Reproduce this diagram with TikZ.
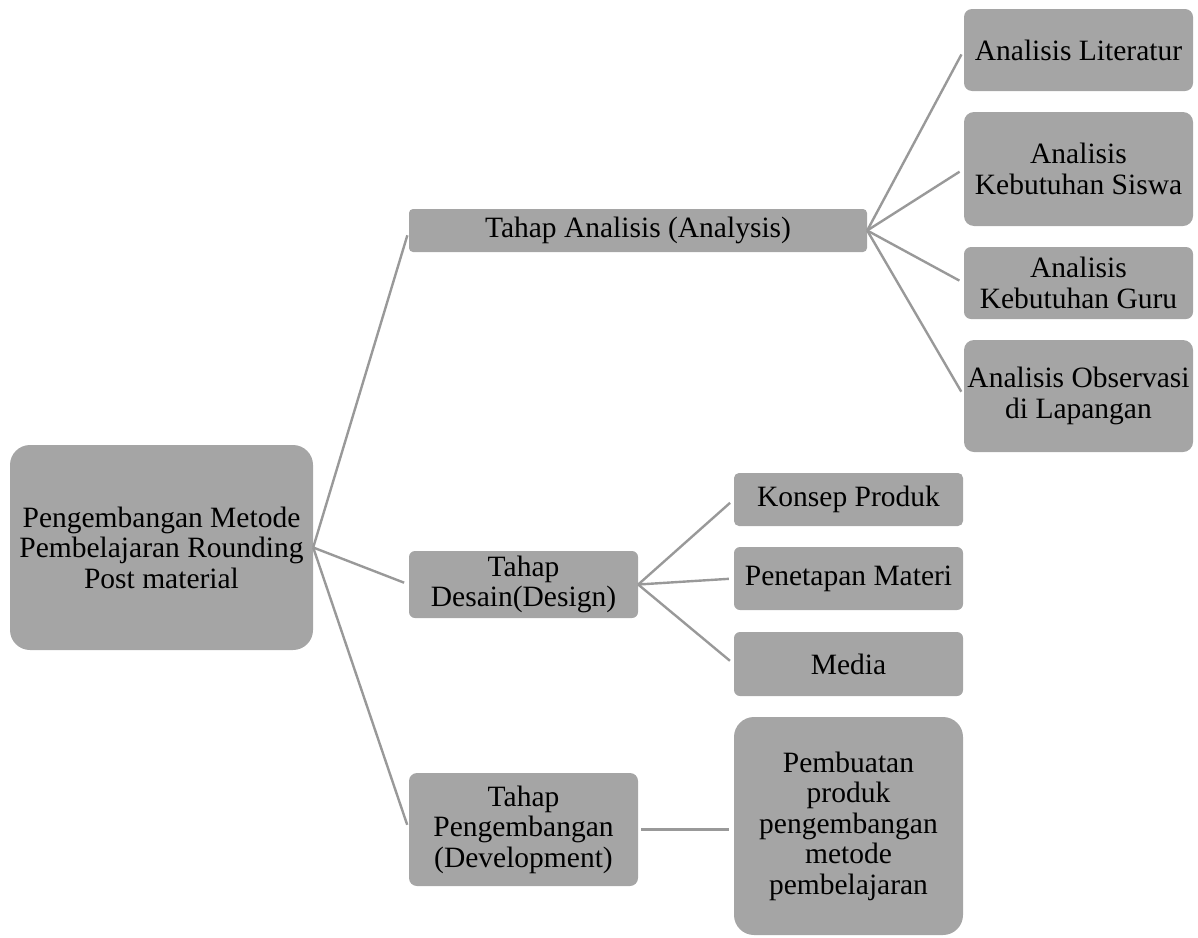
\documentclass[tikz,border=0pt]{standalone}
\usepackage{fontspec}
\setmainfont{Liberation Serif}
\definecolor{boxgray}{HTML}{A5A5A5}
\definecolor{linegray}{HTML}{999999}
\begin{document}
\begin{tikzpicture}[x=1pt,y=-1pt,
  box/.style={fill=boxgray,draw=none,align=center,inner sep=0pt,
    font=\fontsize{29.5}{30.5}\selectfont,text=black},
  link/.style={draw=linegray,line width=2.4pt,shorten >=5pt}]
\useasboundingbox (0,0) rectangle (1198,937);
\node[box,rounded corners=20pt,minimum width=303pt,minimum height=205pt] (main) at (161.5,547.5) {Pengembangan Metode\\Pembelajaran Rounding\\Post material};
\node[box,rounded corners=4pt,minimum width=458pt,minimum height=43pt] (ana) at (638,230.5) {Tahap Analisis (Analysis)};
\node[box,rounded corners=6pt,minimum width=229pt,minimum height=67pt] (des) at (523.5,584.5) {Tahap\\Desain(Design)};
\node[box,rounded corners=8pt,minimum width=229pt,minimum height=113pt] (dev) at (523.5,829.5) {Tahap\\Pengembangan\\(Development)};
\node[box,rounded corners=8pt,minimum width=229pt,minimum height=82pt] (lit) at (1078.5,50) {Analisis Literatur};
\node[box,rounded corners=10pt,minimum width=229pt,minimum height=114pt] (sis) at (1078.5,169) {Analisis\\Kebutuhan Siswa};
\node[box,rounded corners=7pt,minimum width=229pt,minimum height=72pt] (gur) at (1078.5,283) {Analisis\\Kebutuhan Guru};
\node[box,rounded corners=10pt,minimum width=229pt,minimum height=112pt] (obs) at (1078.5,396) {Analisis Observasi\\di Lapangan};
\node[box,rounded corners=5pt,minimum width=229pt,minimum height=53pt] (kon) at (848.5,499.5) {Konsep Produk};
\node[box,rounded corners=6pt,minimum width=229pt,minimum height=63pt] (pen) at (848.5,578.5) {Penetapan Materi};
\node[box,rounded corners=6pt,minimum width=229pt,minimum height=64pt] (med) at (848.5,664) {Media};
\node[box,rounded corners=20pt,minimum width=229pt,minimum height=218pt] (pem) at (848.5,826) {Pembuatan\\produk\\pengembangan\\metode\\pembelajaran};
\draw[link] (main.east) -- (ana.west);
\draw[link] (main.east) -- (des.west);
\draw[link] (main.east) -- (dev.west);
\draw[link] (ana.east) -- (lit.west);
\draw[link] (ana.east) -- (sis.west);
\draw[link] (ana.east) -- (gur.west);
\draw[link] (ana.east) -- (obs.west);
\draw[link] (des.east) -- (kon.west);
\draw[link] (des.east) -- (pen.west);
\draw[link] (des.east) -- (med.west);
\draw[link,shorten <=3pt] (dev.east) -- (dev.east -| pem.west);
\end{tikzpicture}
\end{document}
